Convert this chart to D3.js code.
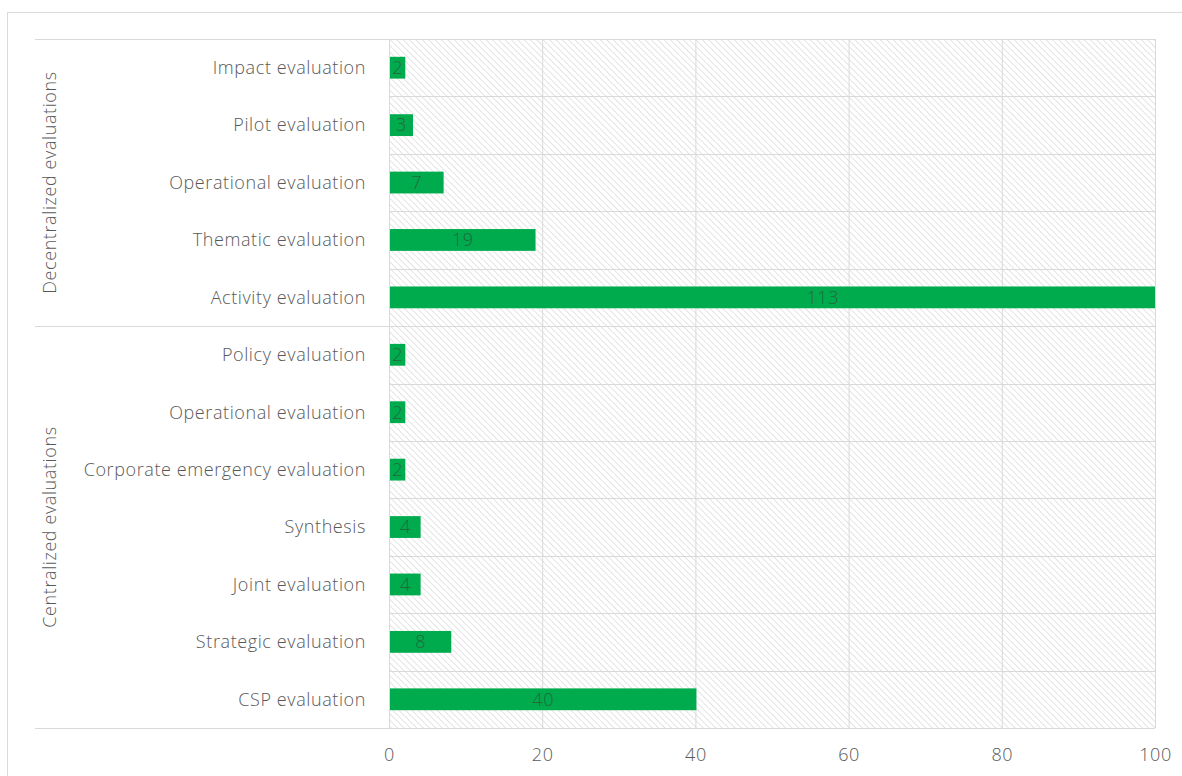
<!DOCTYPE html>
<html>
<head>
<meta charset="utf-8">
<script src="https://cdn.jsdelivr.net/npm/d3@7"></script>
<style>
    body { margin: 0; background: #fff; }
    text { font-family: "Open Sans", sans-serif; font-weight: 300; letter-spacing: 0.6px; }
</style>
</head>
<body>
<div class="chart"></div>
<script>
// data, top to bottom
const groups = ["Decentralized evaluations", "Centralized evaluations"];
const categories = [
    "Impact evaluation", "Pilot evaluation", "Operational evaluation", "Thematic evaluation", "Activity evaluation",
    "Policy evaluation", "Operational evaluation", "Corporate emergency evaluation", "Synthesis", "Joint evaluation",
    "Strategic evaluation", "CSP evaluation"
];
const categoryGroup = [0, 0, 0, 0, 0, 1, 1, 1, 1, 1, 1, 1];
const values = [2, 3, 7, 19, 113, 2, 2, 2, 4, 4, 8, 40];
const xTicks = [0, 20, 40, 60, 80, 100];

const rows = categories.map((c, i) => ({ key: i, name: c, group: categoryGroup[i], value: values[i] }));

const W = 1182, H = 776;
const margin = { top: 39, right: 27, bottom: 48, left: 389 };
const width = W - margin.left - margin.right,
    height = H - margin.top - margin.bottom;
const fontSize = 18;

const svg = d3.select(".chart")
    .append("svg")
    .attr("width", W)
    .attr("height", H);

// outer frame
svg.append("path")
    .attr("d", `M7.5,${H} V12.5 H${W}`)
    .attr("fill", "none")
    .attr("stroke", "#d9d9d9");

const defs = svg.append("defs");
const pat = defs.append("pattern")
    .attr("id", "hatch")
    .attr("patternUnits", "userSpaceOnUse")
    .attr("width", 4.5)
    .attr("height", 4.5)
    .attr("patternTransform", "rotate(-45)");
pat.append("rect").attr("width", 4.5).attr("height", 4.5).attr("fill", "#fff");
pat.append("line")
    .attr("x1", 0).attr("y1", 0).attr("x2", 0).attr("y2", 4.5)
    .attr("stroke", "#dedede")
    .attr("stroke-width", 1.6);

defs.append("clipPath").attr("id", "plotclip")
    .append("rect").attr("width", width).attr("height", height);

const g = svg.append("g")
    .attr("transform", `translate(${margin.left},${margin.top})`);

const xScale = d3.scaleLinear().domain([0, 100]).range([0, width]);
const yScale = d3.scaleBand()
    .domain(rows.map(d => d.key))
    .range([0, height])
    .paddingInner(0.62)
    .paddingOuter(0.31);

// hatched plot background
g.append("rect")
    .attr("width", width)
    .attr("height", height)
    .attr("fill", "url(#hatch)");

// gridlines
g.append("g")
    .selectAll("line.v")
    .data(xTicks)
    .join("line")
    .attr("x1", d => xScale(d) + 0.5).attr("x2", d => xScale(d) + 0.5)
    .attr("y1", 0).attr("y2", height)
    .attr("stroke", "#d9d9d9");

const step = yScale.step();
const bandEdges = d3.range(categories.length + 1).map(i => i * step);
g.append("g")
    .selectAll("line.h")
    .data(bandEdges)
    .join("line")
    .attr("x1", (d, i) => {
        const isGroupEdge = i === 0 || i === categories.length || categoryGroup[i] !== categoryGroup[i - 1];
        return isGroupEdge ? 35 - margin.left : 0;
    })
    .attr("x2", width)
    .attr("y1", d => Math.round(d) + 0.5).attr("y2", d => Math.round(d) + 0.5)
    .attr("stroke", "#d9d9d9");

// bars
const bars = g.append("g").attr("clip-path", "url(#plotclip)");
bars.selectAll("rect")
    .data(rows)
    .join("rect")
    .attr("x", xScale(0) + 1)
    .attr("y", d => yScale(d.key))
    .attr("width", d => xScale(d.value) - xScale(0))
    .attr("height", yScale.bandwidth())
    .attr("fill", "#00ab4e");

// value labels, centred on the full bar
g.append("g")
    .selectAll("text")
    .data(rows)
    .join("text")
    .attr("x", d => xScale(d.value / 2) + 1)
    .attr("y", d => yScale(d.key) + yScale.bandwidth() / 2)
    .attr("dy", "0.35em")
    .attr("text-anchor", "middle")
    .attr("fill", "#24683c")
    .attr("font-size", fontSize)
    .text(d => d.value);

// category labels
g.append("g")
    .selectAll("text")
    .data(rows)
    .join("text")
    .attr("x", -23)
    .attr("y", d => yScale(d.key) + yScale.bandwidth() / 2)
    .attr("dy", "0.35em")
    .attr("text-anchor", "end")
    .attr("fill", "#595959")
    .attr("font-size", fontSize)
    .text(d => d.name);

// group labels
groups.forEach((name, gi) => {
    const idx = rows.filter(d => d.group === gi).map(d => d.key);
    const y0 = d3.min(idx) * step, y1 = (d3.max(idx) + 1) * step;
    g.append("text")
        .attr("transform", `translate(${50 - margin.left},${(y0 + y1) / 2}) rotate(-90)`)
        .attr("dy", "0.35em")
        .attr("text-anchor", "middle")
        .attr("fill", "#595959")
        .attr("font-size", fontSize)
        .text(name);
});

// x axis
const xAxis = d3.axisBottom(xScale).tickValues(xTicks).tickSize(0).tickPadding(20);
g.append("g")
    .attr("transform", `translate(0,${height})`)
    .call(xAxis)
    .call(a => a.select(".domain").remove())
    .selectAll("text")
    .attr("fill", "#595959")
    .attr("font-size", fontSize)
    .attr("font-family", "Open Sans, sans-serif");
</script>
</body>
</html>
